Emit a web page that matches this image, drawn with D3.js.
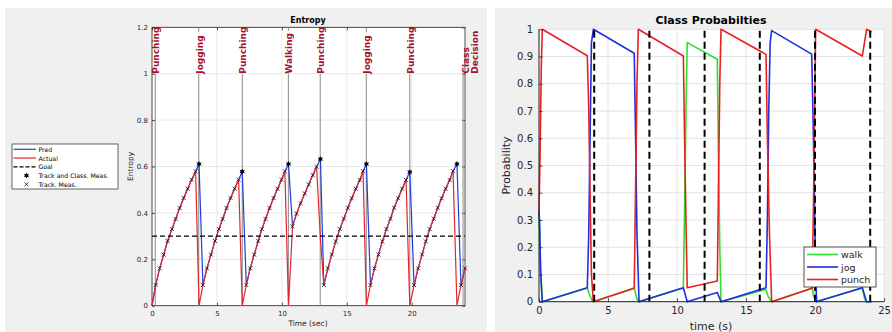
<!DOCTYPE html>
<html>
<head>
<meta charset="utf-8">
<script src="https://cdn.jsdelivr.net/npm/d3@7"></script>
<style>
  body { margin: 0; background: #fff; }
  svg { display: block; font-family: "DejaVu Sans", sans-serif; }
</style>
</head>
<body>
<svg width="892" height="332"></svg>
<script>
// ---------- entropy panel data ----------
const trackT = [0.28, 0.59, 0.9, 1.2, 1.54, 1.82, 2.13, 2.44, 2.75, 3.05, 3.36,
  3.92, 4.23, 4.54, 4.85, 5.15, 5.44, 5.74, 6.05, 6.36, 6.67,
  7.26, 7.56, 7.87, 8.18, 8.46, 8.74, 9.05, 9.36, 9.67, 9.97, 10.23,
  10.82, 11.13, 11.44, 11.76, 12.07, 12.38, 12.67,
  13.23, 13.54, 13.85, 14.15, 14.46, 14.77, 15.08, 15.38, 15.69, 16.0, 16.25,
  16.82, 17.13, 17.44, 17.74, 18.05, 18.36, 18.64, 18.95, 19.26, 19.56,
  20.18, 20.49, 20.8, 21.08, 21.38, 21.69, 22.0, 22.3, 22.61, 22.92, 23.18,
  23.79, 24.1];
const trackH = [0.089, 0.161, 0.22, 0.279, 0.33, 0.374, 0.421, 0.464, 0.504, 0.543, 0.579,
  0.089, 0.161, 0.22, 0.279, 0.33, 0.374, 0.421, 0.464, 0.504, 0.543,
  0.089, 0.161, 0.22, 0.279, 0.33, 0.374, 0.421, 0.464, 0.504, 0.543, 0.579,
  0.342, 0.397, 0.441, 0.484, 0.523, 0.563, 0.599,
  0.089, 0.161, 0.221, 0.277, 0.33, 0.375, 0.422, 0.463, 0.504, 0.542, 0.58,
  0.089, 0.161, 0.221, 0.277, 0.33, 0.375, 0.422, 0.463, 0.504, 0.542,
  0.089, 0.161, 0.221, 0.277, 0.33, 0.375, 0.422, 0.463, 0.504, 0.542, 0.58,
  0.089, 0.161];
const classT = [3.62, 6.95, 10.51, 12.97, 16.51, 19.85, 23.48];
const classPred = [0.611, 0.578, 0.611, 0.632, 0.611, 0.576, 0.611];
const classActual = [0, 0, 0, 0.288, 0, 0, 0];
const goal = 0.3;
const decisionT = [0.25, 3.6, 6.95, 10.5, 12.95, 16.5, 19.85, 23.95];
const decisionLabels = ["Punching", "Jogging", "Punching", "Walking", "Punching",
  "Jogging", "Punching", "Class Decision"];
const entropyLegend = ["Pred", "Actual", "Goal", "Track and Class. Meas.", "Track. Meas."];

// ---------- class probability panel data ----------
const walk = [[0, 0.333], [0.08, 0.2], [0.16, 0.08], [0.24, 0], [3.5, 0.05], [3.62, 0.03],
  [3.8, 0.01], [3.94, 0], [6.9, 0.05], [7.0, 0.03], [7.1, 0.01], [7.2, 0], [10.46, 0.05],
  [10.55, 0.35], [10.65, 0.7], [10.74, 0.951], [12.92, 0.89], [13.0, 0.55], [13.1, 0.2],
  [13.19, 0], [16.45, 0.045], [16.6, 0.02], [16.86, 0], [19.8, 0.05], [19.9, 0.02],
  [20.05, 0], [23.43, 0.05], [23.6, 0.01], [23.74, 0], [24.1, 0]];
const jog = [[0, 0.333], [0.05, 0.28], [0.1, 0.12], [0.24, 0], [3.5, 0.051], [3.6, 0.24],
  [3.7, 0.6], [3.8, 0.95], [3.94, 1.0], [6.9, 0.912], [7.0, 0.6], [7.1, 0.25], [7.25, 0],
  [10.46, 0.051], [10.74, 0], [12.92, 0.034], [13.19, 0], [16.45, 0.051], [16.55, 0.3],
  [16.65, 0.7], [16.75, 0.95], [16.86, 0.995], [19.76, 0.909], [19.85, 0.7], [19.95, 0.4],
  [20.05, 0.1], [20.12, 0], [23.43, 0.051], [23.74, 0], [24.1, 0]];
const punch = [[0, 0.333], [0.08, 0.55], [0.16, 0.85], [0.24, 1.0], [3.5, 0.903], [3.6, 0.72],
  [3.7, 0.4], [3.8, 0.1], [3.94, 0], [6.9, 0.049], [7.0, 0.42], [7.1, 0.8], [7.2, 1.0],
  [10.46, 0.902], [10.55, 0.6], [10.65, 0.3], [10.74, 0.051], [12.92, 0.076], [13.0, 0.4],
  [13.1, 0.8], [13.19, 1.0], [16.45, 0.908], [16.55, 0.6], [16.7, 0.25], [16.86, 0],
  [19.8, 0.049], [19.9, 0.4], [20.0, 0.8], [20.05, 1.0], [23.43, 0.902], [23.74, 1.0],
  [24.1, 0.99]];
const probNames = ["walk", "jog", "punch"];
const probColors = ["#2ee02e", "#1f2fdb", "#e8211f"];
const probDecisionT = [4, 8, 12, 16, 20, 24];

const svg = d3.select("svg");
const ink = "#262626";

// figure backgrounds
svg.append("rect").attr("x", 5).attr("y", 8).attr("width", 482).attr("height", 324).attr("fill", "#f0f0f0");
svg.append("rect").attr("x", 495).attr("y", 8).attr("width", 397).attr("height", 324).attr("fill", "#f0f0f0");

function styleAxis(g, size) {
  g.select(".domain").remove();
  g.selectAll("line").attr("stroke", ink).attr("stroke-width", 0.8);
  g.selectAll("text").attr("font-size", size).attr("fill", ink).attr("font-family", "DejaVu Sans");
}

// ================= Entropy panel =================
const xL = d3.scaleLinear().domain([0, 24.1]).range([152, 465]);
const yL = d3.scaleLinear().domain([0, 1.2]).range([305.7, 27.3]);

const gl = svg.append("g");
gl.append("rect").attr("x", xL(0)).attr("y", yL(1.2))
  .attr("width", xL(24.1) - xL(0)).attr("height", yL(0) - yL(1.2)).attr("fill", "#fff");

// grid
gl.selectAll(".gx").data(xL.ticks(5)).join("line")
  .attr("x1", d => xL(d)).attr("x2", d => xL(d)).attr("y1", yL(0)).attr("y2", yL(1.2))
  .attr("stroke", "#e3e3e3").attr("stroke-width", 0.8);
gl.selectAll(".gy").data(d3.range(0, 1.21, 0.2)).join("line")
  .attr("x1", xL(0)).attr("x2", xL(24.1)).attr("y1", d => yL(d)).attr("y2", d => yL(d))
  .attr("stroke", "#e3e3e3").attr("stroke-width", 0.8);

// axes (box on, inward ticks)
gl.append("g").attr("transform", `translate(0,${yL(0)})`)
  .call(d3.axisBottom(xL).ticks(5).tickSizeInner(-3).tickSizeOuter(0).tickPadding(5))
  .call(g => styleAxis(g, 7));
gl.append("g").attr("transform", `translate(${xL(0)},0)`)
  .call(d3.axisLeft(yL).tickValues(d3.range(0, 1.21, 0.2)).tickFormat(d3.format("~g"))
    .tickSizeInner(-3).tickSizeOuter(0).tickPadding(4))
  .call(g => styleAxis(g, 7));
gl.append("g").attr("transform", `translate(0,${yL(1.2)})`)
  .call(d3.axisTop(xL).ticks(5).tickSizeInner(-3).tickSizeOuter(0).tickFormat(""))
  .call(g => styleAxis(g, 7));
gl.append("g").attr("transform", `translate(${xL(24.1)},0)`)
  .call(d3.axisRight(yL).tickValues(d3.range(0, 1.21, 0.2)).tickSizeInner(-3).tickSizeOuter(0).tickFormat(""))
  .call(g => styleAxis(g, 7));
gl.append("rect").attr("x", xL(0)).attr("y", yL(1.2))
  .attr("width", xL(24.1) - xL(0)).attr("height", yL(0) - yL(1.2))
  .attr("fill", "none").attr("stroke", ink).attr("stroke-width", 0.8);

// decision lines with labels
const gDecLines = gl.append("g");
const gDecLabels = gl.append("g");
decisionT.forEach((t, i) => {
  const x = xL(t);
  const last = i === decisionT.length - 1;
  const label = gDecLabels.append("text")
    .attr("transform", `translate(${last ? x + 3 : x + 1},${yL(1)}) rotate(-90)`)
    .attr("dominant-baseline", "central")
    .attr("font-size", 9).attr("font-weight", "bold").attr("fill", "#a2142f");
  decisionLabels[i].split(" ").forEach((p, j) => {
    label.append("tspan").attr("x", 0).attr("dy", j === 0 ? 0 : 9).text(p);
  });
  const len = label.node().getBBox().width;
  gDecLines.append("line")
    .attr("x1", x).attr("x2", x).attr("y1", yL(0)).attr("y2", yL(1))
    .attr("stroke", "#8a8a8a").attr("stroke-width", 1);
  if (yL(1) - len - 2 > yL(1.2)) {
    gDecLines.append("line")
      .attr("x1", x).attr("x2", x).attr("y1", yL(1) - len - 2).attr("y2", yL(1.2))
      .attr("stroke", "#8a8a8a").attr("stroke-width", 1);
  }
});

// lines
const trackPts = trackT.map((t, i) => [t, trackH[i]]);
const predPts = [[0, 0], ...trackPts, ...classT.map((t, i) => [t, classPred[i]])].sort((a, b) => a[0] - b[0]);
const actualPts = [[0, 0], ...trackPts, ...classT.map((t, i) => [t, classActual[i]])].sort((a, b) => a[0] - b[0]);
const lineL = d3.line().x(d => xL(d[0])).y(d => yL(d[1]));

gl.append("path").datum(predPts).attr("d", lineL)
  .attr("fill", "none").attr("stroke", "#1f3ddb").attr("stroke-width", 1.2);
gl.append("path").datum(actualPts).attr("d", lineL)
  .attr("fill", "none").attr("stroke", "#e3262b").attr("stroke-width", 1.2);
gl.append("line").attr("x1", xL(0)).attr("x2", xL(24.1)).attr("y1", yL(goal)).attr("y2", yL(goal))
  .attr("stroke", "#000").attr("stroke-width", 1.2).attr("stroke-dasharray", "5,3");

const timesPath = "M-2,-2L2,2M-2,2L2,-2";
const starPath = "M0,-2.6L0,2.6M-2.3,-1.3L2.3,1.3M-2.3,1.3L2.3,-1.3";
gl.selectAll(".trk").data(trackPts).join("path")
  .attr("transform", d => `translate(${xL(d[0])},${yL(d[1])})`)
  .attr("d", timesPath).attr("stroke", "#111").attr("stroke-width", 0.8).attr("fill", "none");
const cls = gl.selectAll(".cls").data(classT.map((t, i) => [t, classPred[i]])).join("g")
  .attr("transform", d => `translate(${xL(d[0])},${yL(d[1])})`);
cls.append("circle").attr("r", 1.8).attr("fill", "#000");
cls.append("path").attr("d", starPath).attr("stroke", "#000").attr("stroke-width", 0.9);

// labels
gl.append("text").attr("x", 308).attr("y", 23).attr("text-anchor", "middle")
  .attr("font-size", 8).attr("font-weight", "bold").attr("fill", "#000").text("Entropy");
gl.append("text").attr("x", 308).attr("y", 326).attr("text-anchor", "middle")
  .attr("font-size", 7.5).attr("fill", ink).text("Time (sec)");
gl.append("text").attr("transform", `translate(130,${(yL(0) + yL(1.2)) / 2}) rotate(-90)`)
  .attr("text-anchor", "middle").attr("dominant-baseline", "central")
  .attr("font-size", 7.5).attr("fill", ink).text("Entropy");

// legend
const lg = gl.append("g").attr("transform", "translate(12,144)");
lg.append("rect").attr("width", 106).attr("height", 45).attr("fill", "#fff")
  .attr("stroke", ink).attr("stroke-width", 0.7);
entropyLegend.forEach((name, i) => {
  const y = 5.3 + i * 8.75;
  if (i < 3) {
    lg.append("line").attr("x1", 1.5).attr("x2", 24).attr("y1", y).attr("y2", y)
      .attr("stroke", ["#1f3ddb", "#e3262b", "#000"][i]).attr("stroke-width", 1.2)
      .attr("stroke-dasharray", i === 2 ? "4,2" : null);
  } else if (i === 3) {
    lg.append("circle").attr("cx", 14.5).attr("cy", y).attr("r", 1.8).attr("fill", "#000");
    lg.append("path").attr("transform", `translate(14.5,${y})`).attr("d", starPath)
      .attr("stroke", "#000").attr("stroke-width", 0.9);
  } else {
    lg.append("path").attr("transform", `translate(14.5,${y})`).attr("d", timesPath)
      .attr("stroke", "#111").attr("stroke-width", 0.8);
  }
  lg.append("text").attr("x", 26.5).attr("y", y).attr("dominant-baseline", "central")
    .attr("font-size", 6.2).attr("fill", "#000").text(name);
});

// ================= Class probability panel =================
const xR = d3.scaleLinear().domain([0, 25]).range([539, 884]);
const yR = d3.scaleLinear().domain([0, 1]).range([301.7, 29.3]);

const gr = svg.append("g");
gr.append("rect").attr("x", xR(0)).attr("y", yR(1))
  .attr("width", xR(25) - xR(0)).attr("height", yR(0) - yR(1)).attr("fill", "#fff");
gr.selectAll(".gx").data(xR.ticks(5)).join("line")
  .attr("x1", d => xR(d)).attr("x2", d => xR(d)).attr("y1", yR(0)).attr("y2", yR(1))
  .attr("stroke", "#e3e3e3").attr("stroke-width", 1);
gr.selectAll(".gy").data(d3.range(0, 1.01, 0.1)).join("line")
  .attr("x1", xR(0)).attr("x2", xR(25)).attr("y1", d => yR(d)).attr("y2", d => yR(d))
  .attr("stroke", "#e3e3e3").attr("stroke-width", 1);

const lineR = d3.line().x(d => xR(d[0])).y(d => yR(d[1]));
[walk, jog, punch].forEach((series, i) => {
  gr.append("path").datum(series).attr("d", lineR)
    .attr("fill", "none").attr("stroke", probColors[i]).attr("stroke-width", 1.6)
    .attr("stroke-linejoin", "round");
});

gr.selectAll(".dl").data(probDecisionT).join("line")
  .attr("x1", d => xR(d)).attr("x2", d => xR(d)).attr("y1", yR(0)).attr("y2", yR(1))
  .attr("stroke", "#000").attr("stroke-width", 2).attr("stroke-dasharray", "7,4");

gr.append("g").attr("transform", `translate(0,${yR(0)})`)
  .call(d3.axisBottom(xR).ticks(5).tickSizeInner(-3.5).tickSizeOuter(0).tickPadding(5))
  .call(g => styleAxis(g, 10));
gr.append("g").attr("transform", `translate(${xR(0)},0)`)
  .call(d3.axisLeft(yR).tickValues(d3.range(0, 1.01, 0.1)).tickFormat(d3.format("~g"))
    .tickSizeInner(-3.5).tickSizeOuter(0).tickPadding(6))
  .call(g => styleAxis(g, 10));
gr.append("line").attr("x1", xR(0)).attr("x2", xR(25)).attr("y1", yR(0)).attr("y2", yR(0))
  .attr("stroke", ink).attr("stroke-width", 1);
gr.append("line").attr("x1", xR(0)).attr("x2", xR(0)).attr("y1", yR(0)).attr("y2", yR(1))
  .attr("stroke", ink).attr("stroke-width", 1);

gr.append("text").attr("x", 711).attr("y", 24).attr("text-anchor", "middle")
  .attr("font-size", 11).attr("font-weight", "bold").attr("fill", "#000").text("Class Probabilties");
gr.append("text").attr("x", 711).attr("y", 330).attr("text-anchor", "middle")
  .attr("font-size", 11).attr("fill", ink).text("time (s)");
gr.append("text").attr("transform", `translate(506,${(yR(0) + yR(1)) / 2}) rotate(-90)`)
  .attr("text-anchor", "middle").attr("dominant-baseline", "central")
  .attr("font-size", 11).attr("fill", ink).text("Probability");

const lr = gr.append("g").attr("transform", "translate(804,247)");
lr.append("rect").attr("width", 72).attr("height", 40).attr("fill", "#fff")
  .attr("stroke", ink).attr("stroke-width", 0.8);
probNames.forEach((name, i) => {
  const y = 7.5 + i * 12.5;
  lr.append("line").attr("x1", 3).attr("x2", 34).attr("y1", y).attr("y2", y)
    .attr("stroke", probColors[i]).attr("stroke-width", 1.6);
  lr.append("text").attr("x", 37).attr("y", y).attr("dominant-baseline", "central")
    .attr("font-size", 9.5).attr("fill", ink).text(name);
});
</script>
</body>
</html>
